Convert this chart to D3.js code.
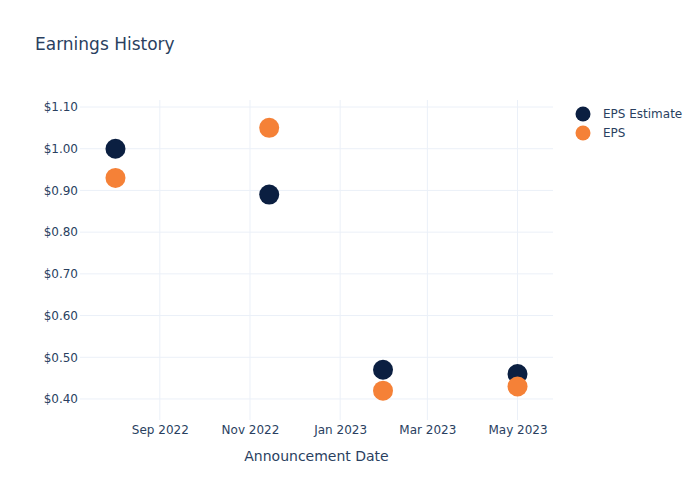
<!DOCTYPE html>
<html>
<head>
<meta charset="utf-8">
<script src="https://cdn.jsdelivr.net/npm/d3@7"></script>
<style>
  body { margin: 0; background: #fff; }
  text { font-family: "DejaVu Sans", "Open Sans", sans-serif; fill: #2a3f5f; }
</style>
</head>
<body>
<div id="chart"></div>
<script>
// announcement dates and eps values
const dates = ["2022-08-02", "2022-11-14", "2023-01-30", "2023-05-01"];
const epsEstimate = [1.00, 0.89, 0.47, 0.46];
const epsActual = [0.93, 1.05, 0.42, 0.43];
const yTicks = [0.4, 0.5, 0.6, 0.7, 0.8, 0.9, 1.0, 1.1];
const xTicks = ["2022-09-01", "2022-11-01", "2023-01-01", "2023-03-01", "2023-05-01"];
const seriesNames = ["EPS Estimate", "EPS"];

const width = 700, height = 500;
const margin = { top: 100, right: 147, bottom: 80, left: 80 };
const colors = ["#0b1f41", "#f58137"];

const parse = d3.timeParse("%Y-%m-%d");

const svg = d3.select("#chart")
    .append("svg")
    .attr("width", width)
    .attr("height", height);

const x = d3.scaleTime()
    .domain([parse("2022-07-09"), parse("2023-05-25")])
    .range([margin.left, width - margin.right]);

const y = d3.scaleLinear()
    .domain([0.3496, 1.1168])
    .range([height - margin.bottom, margin.top]);

// grid
svg.append("g")
    .selectAll("line")
    .data(xTicks)
    .enter()
    .append("line")
    .attr("x1", d => x(parse(d)))
    .attr("x2", d => x(parse(d)))
    .attr("y1", margin.top)
    .attr("y2", height - margin.bottom)
    .attr("stroke", "#ebf0f8")
    .attr("stroke-width", 1);

svg.append("g")
    .selectAll("line")
    .data(yTicks)
    .enter()
    .append("line")
    .attr("x1", margin.left)
    .attr("x2", width - margin.right)
    .attr("y1", d => y(d))
    .attr("y2", d => y(d))
    .attr("stroke", "#ebf0f8")
    .attr("stroke-width", 1);

// axes
const xAxis = svg.append("g")
    .attr("transform", `translate(0, ${height - margin.bottom})`)
    .call(d3.axisBottom(x)
        .tickValues(xTicks.map(parse))
        .tickFormat(d3.timeFormat("%b %Y"))
        .tickSize(0)
        .tickPadding(5));
xAxis.select(".domain").remove();
xAxis.selectAll("text").style("font-size", "12px").attr("fill", "#2a3f5f");

const yAxis = svg.append("g")
    .attr("transform", `translate(${margin.left}, 0)`)
    .call(d3.axisLeft(y)
        .tickValues(yTicks)
        .tickFormat(d => "$" + d3.format(".2f")(d))
        .tickSize(0)
        .tickPadding(2));
yAxis.select(".domain").remove();
yAxis.selectAll("text").style("font-size", "12px").attr("fill", "#2a3f5f");

// points
[epsEstimate, epsActual].forEach((values, i) => {
    svg.append("g")
        .selectAll("circle")
        .data(values)
        .enter()
        .append("circle")
        .attr("cx", (d, j) => x(parse(dates[j])))
        .attr("cy", d => y(d))
        .attr("r", 10)
        .attr("fill", colors[i]);
});

// title
svg.append("text")
    .attr("x", 35)
    .attr("y", 50)
    .style("font-size", "17px")
    .text("Earnings History");

svg.append("text")
    .attr("x", (margin.left + width - margin.right) / 2)
    .attr("y", 461)
    .attr("text-anchor", "middle")
    .style("font-size", "14px")
    .text("Announcement Date");

// legend
const legend = svg.append("g");
seriesNames.forEach((name, i) => {
    legend.append("circle")
        .attr("cx", 583)
        .attr("cy", 114 + i * 19)
        .attr("r", 7.5)
        .attr("fill", colors[i]);
    legend.append("text")
        .attr("x", 603)
        .attr("y", 118 + i * 19)
        .style("font-size", "12px")
        .text(name);
});
</script>
</body>
</html>
